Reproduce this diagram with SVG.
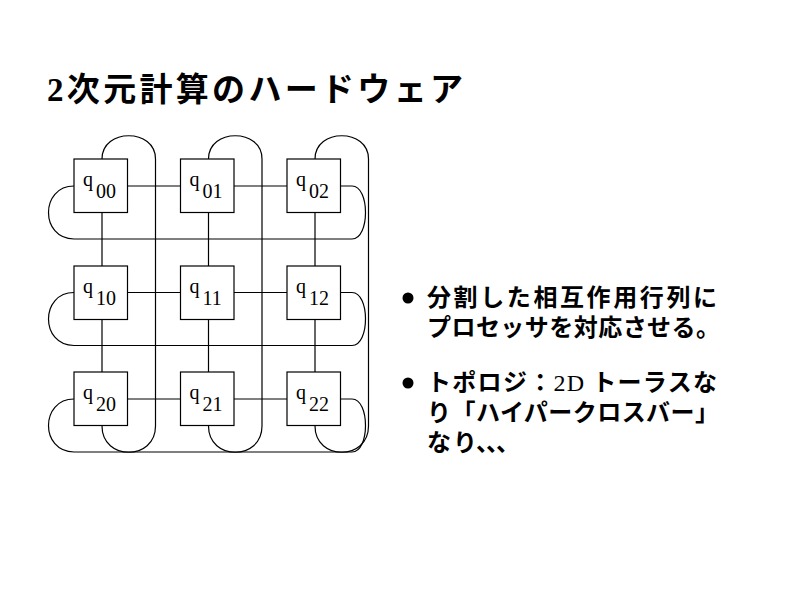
<svg xmlns="http://www.w3.org/2000/svg" width="800" height="600" viewBox="0 0 800 600">
<style>
.box{fill:#fff;stroke:#000;stroke-width:1.2}
.ln{fill:none;stroke:#000;stroke-width:1.2}
.q{font-family:"Liberation Serif",serif;font-size:20px;fill:#000}
.jp{font-family:"Noto Sans CJK JP","Noto Sans CJK SC",sans-serif;font-weight:bold;fill:#000}
.ser{font-family:"Liberation Serif",serif;font-weight:bold}
.serr{font-family:"Liberation Serif",serif;font-weight:normal}
</style>
<rect width="800" height="600" fill="#fff"/>
<text id="title" class="jp" x="47" y="101" font-size="33" textLength="416" lengthAdjust="spacing"><tspan class="ser">2</tspan>次元計算のハードウェア</text>
<g id="connectors">
  <path class="ln" d="M127.5,186 H180.5 M234,186 H287 M127.5,292.5 H180.5 M234,292.5 H287 M127.5,399 H180.5 M234,399 H287"/>
  <path class="ln" d="M102,212.5 V266 M102,319.5 V372 M208.5,212.5 V266 M208.5,319.5 V372 M315,212.5 V266 M315,319.5 V372"/>
  <path class="ln" d="M74,186 C40,186 40,239 74,239 L352,239 C370,239 370,186 352,186 L341,186"/>
  <path class="ln" d="M74,292.5 C40,292.5 40,345.5 74,345.5 L352,345.5 C370,345.5 370,292.5 352,292.5 L341,292.5"/>
  <path class="ln" d="M74,399 C40,399 40,452 74,452 L352,452 C370,452 370,399 352,399 L341,399"/>
  <path class="ln" d="M102,159 C102,128 155.5,128 155.5,159 L155.5,426 C155.5,461 102,461 102,426"/>
  <path class="ln" d="M208.5,159 C208.5,128 262,128 262,159 L262,426 C262,461 208.5,461 208.5,426"/>
  <path class="ln" d="M315,159 C315,128 368.5,128 368.5,159 L368.5,426 C368.5,461 315,461 315,426"/>
</g>
<g id="q00"><rect class="box" x="74" y="159" width="53.5" height="53.5"/><text class="q" x="83" y="186">q</text><text class="q" x="96" y="198">00</text></g>
<g id="q01"><rect class="box" x="180.5" y="159" width="53.5" height="53.5"/><text class="q" x="189.5" y="186">q</text><text class="q" x="202.5" y="198">01</text></g>
<g id="q02"><rect class="box" x="287" y="159" width="53.5" height="53.5"/><text class="q" x="296" y="186">q</text><text class="q" x="309" y="198">02</text></g>
<g id="q10"><rect class="box" x="74" y="266" width="53.5" height="53.5"/><text class="q" x="83" y="293">q</text><text class="q" x="96" y="305">10</text></g>
<g id="q11"><rect class="box" x="180.5" y="266" width="53.5" height="53.5"/><text class="q" x="189.5" y="293">q</text><text class="q" x="202.5" y="305">11</text></g>
<g id="q12"><rect class="box" x="287" y="266" width="53.5" height="53.5"/><text class="q" x="296" y="293">q</text><text class="q" x="309" y="305">12</text></g>
<g id="q20"><rect class="box" x="74" y="372" width="53.5" height="53.5"/><text class="q" x="83" y="399">q</text><text class="q" x="96" y="411">20</text></g>
<g id="q21"><rect class="box" x="180.5" y="372" width="53.5" height="53.5"/><text class="q" x="189.5" y="399">q</text><text class="q" x="202.5" y="411">21</text></g>
<g id="q22"><rect class="box" x="287" y="372" width="53.5" height="53.5"/><text class="q" x="296" y="399">q</text><text class="q" x="309" y="411">22</text></g>
<g id="bullets">
  <circle cx="408" cy="298" r="5.5" fill="#000"/>
  <text class="jp" x="427" y="306" font-size="24" textLength="290" lengthAdjust="spacing">分割した相互作用行列に</text>
  <text class="jp" x="427" y="336" font-size="24" textLength="293" lengthAdjust="spacing">プロセッサを対応させる。</text>
  <circle cx="408" cy="383" r="5.5" fill="#000"/>
  <text class="jp" x="427" y="391" font-size="24" textLength="290" lengthAdjust="spacing">トポロジ：<tspan class="serr">2D</tspan> トーラスな</text>
  <text class="jp" x="427" y="421" font-size="24" textLength="292" lengthAdjust="spacing">り「ハイパークロスバー」</text>
  <text class="jp" x="427 453 476 486 496" y="451" font-size="24">なり、、、</text>
</g>
</svg>
